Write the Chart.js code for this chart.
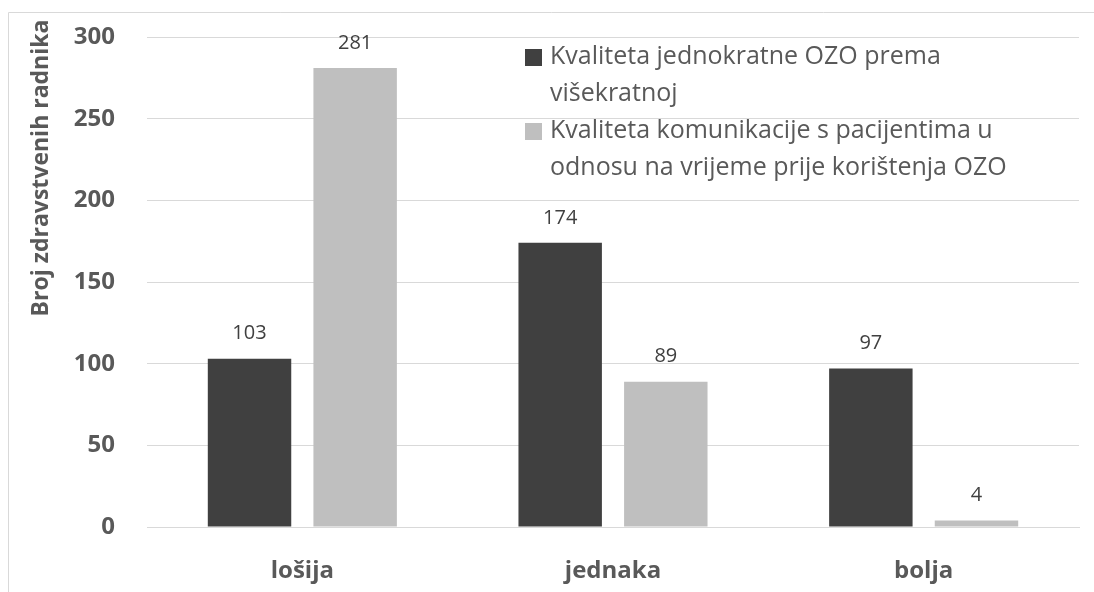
<!DOCTYPE html>
<html>
<head>
<meta charset="utf-8">
<script src="https://cdn.jsdelivr.net/npm/chart.js@4/dist/chart.umd.min.js"></script>
<style>
  html, body { margin: 0; padding: 0; background: #fff; }
  #wrap { width: 1094px; height: 592px; position: relative; }
</style>
</head>
<body>
<div id="wrap"><canvas id="chart-ozo"></canvas></div>
<script>
const categories = ['lošija', 'jednaka', 'bolja'];
const jednokratnaOzo = [103, 174, 97];
const komunikacija = [281, 89, 4];
const legendLines = [
  ['Kvaliteta jednokratne OZO prema', 'višekratnoj'],
  ['Kvaliteta komunikacije s pacijentima u', 'odnosu na vrijeme prije korištenja OZO']
];
const yTicks = [0, 50, 100, 150, 200, 250, 300];
const yTitle = 'Broj zdravstvenih radnika';

const FONT = '"Open Sans", "DejaVu Sans", sans-serif';
const TEXT = '#595959';

// frame, y title, value labels and the wrapped legend
const extras = {
  id: 'extras',
  beforeDraw(chart) {
    const ctx = chart.ctx;
    ctx.save();
    ctx.strokeStyle = '#d9d9d9';
    ctx.lineWidth = 1;
    ctx.beginPath();
    ctx.moveTo(8.5, 600);
    ctx.lineTo(8.5, 12.5);
    ctx.lineTo(1100, 12.5);
    ctx.stroke();
    ctx.restore();
  },
  afterDatasetsDraw(chart) {
    const ctx = chart.ctx;
    ctx.save();
    // y axis title
    ctx.translate(41, 168);
    ctx.rotate(-Math.PI / 2);
    ctx.font = 'bold 23px ' + FONT;
    ctx.fillStyle = TEXT;
    ctx.textAlign = 'center';
    ctx.textBaseline = 'middle';
    ctx.fillText(yTitle, 0, 0);
    ctx.restore();

    // values above bars
    ctx.save();
    ctx.font = '20px ' + FONT;
    ctx.fillStyle = '#404040';
    ctx.textAlign = 'center';
    ctx.textBaseline = 'middle';
    chart.data.datasets.forEach((ds, i) => {
      chart.getDatasetMeta(i).data.forEach((bar, j) => {
        ctx.fillText(String(ds.data[j]), bar.x, bar.y - 25);
      });
    });
    ctx.restore();

    // legend
    ctx.save();
    ctx.font = '25px ' + FONT;
    ctx.textBaseline = 'middle';
    let y = 57;
    chart.data.datasets.forEach((ds, i) => {
      ctx.fillStyle = ds.backgroundColor;
      ctx.fillRect(525, y - 8, 17, 17);
      ctx.fillStyle = TEXT;
      legendLines[i].forEach(line => {
        ctx.fillText(line, 550, y);
        y += 37;
      });
    });
    ctx.restore();
  }
};

new Chart(document.getElementById('chart-ozo'), {
  type: 'bar',
  data: {
    labels: categories,
    datasets: [
      { label: legendLines[0].join(' '), data: jednokratnaOzo, backgroundColor: '#404040' },
      { label: legendLines[1].join(' '), data: komunikacija, backgroundColor: '#bfbfbf' }
    ]
  },
  options: {
    responsive: true,
    maintainAspectRatio: false,
    animation: false,
    layout: { padding: { top: 37, right: 15, bottom: 0, left: 0 } },
    datasets: { bar: { barPercentage: 0.79, categoryPercentage: 0.68 } },
    plugins: {
      legend: { display: false },
      title: { display: false },
      tooltip: { enabled: false }
    },
    scales: {
      x: {
        grid: { display: false, drawTicks: false },
        border: { display: true, color: '#d9d9d9' },
        ticks: { color: TEXT, font: { family: FONT, size: 24, weight: 'bold' }, padding: 30 },
        afterFit(scale) { scale.height = 65; }
      },
      y: {
        min: 0,
        max: 300,
        afterBuildTicks(scale) { scale.ticks = yTicks.map(v => ({ value: v })); },
        grid: { color: '#d9d9d9', drawTicks: false },
        border: { display: false },
        ticks: { color: TEXT, font: { family: FONT, size: 24, weight: 'bold' }, padding: 32 },
        afterFit(scale) {
          scale.width = 147;
          scale.paddingTop = 10;
          scale.paddingBottom = 10;
        }
      }
    }
  },
  plugins: [extras]
});
</script>
</body>
</html>
